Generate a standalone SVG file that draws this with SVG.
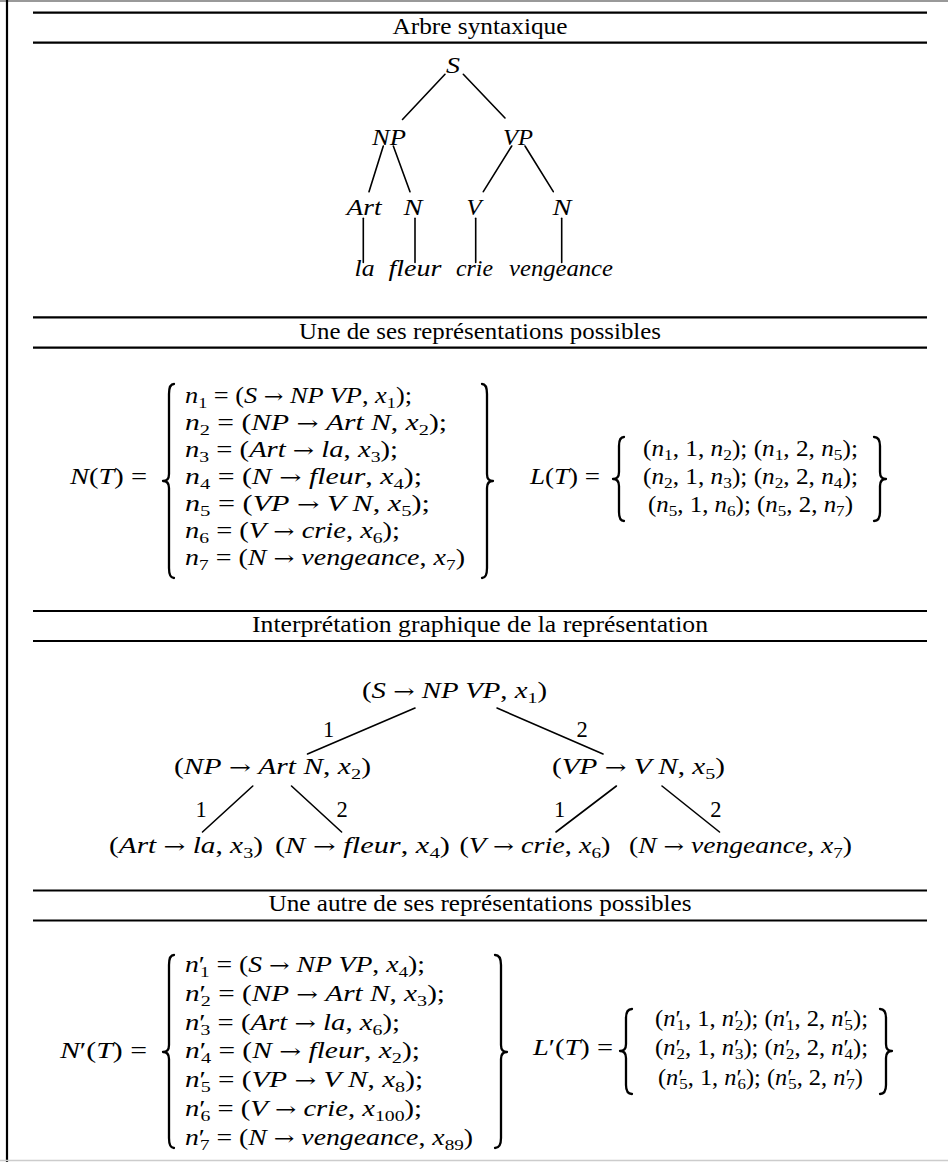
<svg xmlns="http://www.w3.org/2000/svg" width="948" height="1162" viewBox="0 0 948 1162">
<style>
text { font-family: "Liberation Serif", "Times New Roman", serif; font-size: 22.5px; fill: #000; }
.it { font-style: italic; }
.s { font-size: 15.5px; font-style: normal; }
.ar { font-family: "DejaVu Serif", serif; font-size: 20px; font-style: normal; }
.c { text-anchor: middle; }
.rule { stroke: #000; stroke-width: 2.2; }
.edge { stroke: #000; stroke-width: 1.6; fill: none; stroke-linecap: round; }
.brace { stroke: #000; stroke-width: 2.3; fill: none; stroke-linejoin: round; stroke-linecap: round; }
</style>
<rect x="0" y="0" width="948" height="1162" fill="#fff"/>
<g id="frame">
  <line x1="0" y1="1" x2="948" y2="1" stroke="#777" stroke-width="1.5"/>
  <line x1="7" y1="0" x2="7" y2="1162" stroke="#000" stroke-width="2.2"/>
  <line x1="0" y1="1160.5" x2="948" y2="1160.5" stroke="#ccc" stroke-width="1.5"/>
</g>
<g id="headers">
  <line class="rule" x1="33" y1="12.7" x2="927" y2="12.7"/>
  <line class="rule" x1="33" y1="42.7" x2="927" y2="42.7"/>
  <text class="c" x="480" y="34" textLength="175" lengthAdjust="spacingAndGlyphs">Arbre syntaxique</text>
  <line class="rule" x1="33" y1="317.3" x2="927" y2="317.3"/>
  <line class="rule" x1="33" y1="347.7" x2="927" y2="347.7"/>
  <text class="c" x="480" y="338.5" textLength="362" lengthAdjust="spacingAndGlyphs">Une de ses représentations possibles</text>
  <line class="rule" x1="33" y1="611" x2="927" y2="611"/>
  <line class="rule" x1="33" y1="641" x2="927" y2="641"/>
  <text class="c" x="480" y="632" textLength="456" lengthAdjust="spacingAndGlyphs">Interprétation graphique de la représentation</text>
  <line class="rule" x1="33" y1="890.5" x2="927" y2="890.5"/>
  <line class="rule" x1="33" y1="920.5" x2="927" y2="920.5"/>
  <text class="c" x="480" y="911" textLength="423" lengthAdjust="spacingAndGlyphs">Une autre de ses représentations possibles</text>
</g>
<!-- Section 1: syntax tree -->
<g id="tree1-connectors">
  <line class="edge" x1="445" y1="74.3" x2="402.5" y2="119.5"/>
  <line class="edge" x1="463.3" y1="74.3" x2="505" y2="118"/>
  <line class="edge" x1="383.3" y1="146" x2="369" y2="191.7"/>
  <line class="edge" x1="393.3" y1="146" x2="410" y2="191.7"/>
  <line class="edge" x1="511.7" y1="146" x2="483.3" y2="191.7"/>
  <line class="edge" x1="525" y1="146" x2="553.3" y2="191.7"/>
  <line class="edge" x1="363.3" y1="218.3" x2="363.3" y2="262.5"/>
  <line class="edge" x1="415" y1="218.3" x2="415" y2="262.5"/>
  <line class="edge" x1="475.7" y1="218.3" x2="475.7" y2="262.5"/>
  <line class="edge" x1="561.7" y1="218.3" x2="561.7" y2="262.5"/>
</g>
<g id="t-S"><text class="it c" x="453" y="72.5" textLength="14" lengthAdjust="spacingAndGlyphs">S</text></g>
<g id="t-NP"><text class="it c" x="389" y="144.5" textLength="34" lengthAdjust="spacingAndGlyphs">NP</text></g>
<g id="t-VP"><text class="it c" x="518" y="144.5" textLength="30" lengthAdjust="spacingAndGlyphs">VP</text></g>
<g id="t-Art"><text class="it c" x="364" y="214.5" textLength="35" lengthAdjust="spacingAndGlyphs">Art</text></g>
<g id="t-N1"><text class="it c" x="413" y="214.5" textLength="19" lengthAdjust="spacingAndGlyphs">N</text></g>
<g id="t-V"><text class="it c" x="474" y="214.5" textLength="15" lengthAdjust="spacingAndGlyphs">V</text></g>
<g id="t-N2"><text class="it c" x="562" y="214.5" textLength="19" lengthAdjust="spacingAndGlyphs">N</text></g>
<g id="t-la"><text class="it c" x="364.5" y="276" textLength="20" lengthAdjust="spacingAndGlyphs">la</text></g>
<g id="t-fleur"><text class="it c" x="415" y="276" textLength="53" lengthAdjust="spacingAndGlyphs">fleur</text></g>
<g id="t-crie"><text class="it c" x="474.5" y="276" textLength="37" lengthAdjust="spacingAndGlyphs">crie</text></g>
<g id="t-vengeance"><text class="it c" x="561" y="276" textLength="104" lengthAdjust="spacingAndGlyphs">vengeance</text></g>

<!-- Section 2 -->
<g id="NT">
  <text x="70" y="484" textLength="77" lengthAdjust="spacingAndGlyphs"><tspan class="it">N</tspan>(<tspan class="it">T</tspan>) =</text>
  <path class="brace" d="M174,384 Q169,384 169,394 L169,474 Q169,481 163,481 Q169,481 169,488 L169,568 Q169,578 174,578"/>
  <text x="185" y="403" textLength="227" lengthAdjust="spacingAndGlyphs"><tspan class="it">n</tspan><tspan class="s" dy="4.5">1</tspan><tspan dy="-4.5"> = (</tspan><tspan class="it">S</tspan> <tspan class="ar">→</tspan> <tspan class="it">NP VP</tspan>, <tspan class="it">x</tspan><tspan class="s" dy="4.5">1</tspan><tspan dy="-4.5">);</tspan></text>
  <text x="185" y="430" textLength="262" lengthAdjust="spacingAndGlyphs"><tspan class="it">n</tspan><tspan class="s" dy="4.5">2</tspan><tspan dy="-4.5"> = (</tspan><tspan class="it">NP</tspan> <tspan class="ar">→</tspan> <tspan class="it">Art N</tspan>, <tspan class="it">x</tspan><tspan class="s" dy="4.5">2</tspan><tspan dy="-4.5">);</tspan></text>
  <text x="185" y="457" textLength="213" lengthAdjust="spacingAndGlyphs"><tspan class="it">n</tspan><tspan class="s" dy="4.5">3</tspan><tspan dy="-4.5"> = (</tspan><tspan class="it">Art</tspan> <tspan class="ar">→</tspan> <tspan class="it">la</tspan>, <tspan class="it">x</tspan><tspan class="s" dy="4.5">3</tspan><tspan dy="-4.5">);</tspan></text>
  <text x="185" y="484" textLength="237" lengthAdjust="spacingAndGlyphs"><tspan class="it">n</tspan><tspan class="s" dy="4.5">4</tspan><tspan dy="-4.5"> = (</tspan><tspan class="it">N</tspan> <tspan class="ar">→</tspan> <tspan class="it">fleur</tspan>, <tspan class="it">x</tspan><tspan class="s" dy="4.5">4</tspan><tspan dy="-4.5">);</tspan></text>
  <text x="185" y="511" textLength="245" lengthAdjust="spacingAndGlyphs"><tspan class="it">n</tspan><tspan class="s" dy="4.5">5</tspan><tspan dy="-4.5"> = (</tspan><tspan class="it">VP</tspan> <tspan class="ar">→</tspan> <tspan class="it">V N</tspan>, <tspan class="it">x</tspan><tspan class="s" dy="4.5">5</tspan><tspan dy="-4.5">);</tspan></text>
  <text x="185" y="538" textLength="215" lengthAdjust="spacingAndGlyphs"><tspan class="it">n</tspan><tspan class="s" dy="4.5">6</tspan><tspan dy="-4.5"> = (</tspan><tspan class="it">V</tspan> <tspan class="ar">→</tspan> <tspan class="it">crie</tspan>, <tspan class="it">x</tspan><tspan class="s" dy="4.5">6</tspan><tspan dy="-4.5">);</tspan></text>
  <text x="185" y="565" textLength="280" lengthAdjust="spacingAndGlyphs"><tspan class="it">n</tspan><tspan class="s" dy="4.5">7</tspan><tspan dy="-4.5"> = (</tspan><tspan class="it">N</tspan> <tspan class="ar">→</tspan> <tspan class="it">vengeance</tspan>, <tspan class="it">x</tspan><tspan class="s" dy="4.5">7</tspan><tspan dy="-4.5">)</tspan></text>
  <path class="brace" d="M482,384 Q487,384 487,394 L487,474 Q487,481 493,481 Q487,481 487,488 L487,568 Q487,578 482,578"/>
</g>
<g id="LT">
  <text x="530" y="484" textLength="70" lengthAdjust="spacingAndGlyphs"><tspan class="it">L</tspan>(<tspan class="it">T</tspan>) =</text>
  <path class="brace" d="M624,437 Q619,437 619,446 L619,472 Q619,479 613,479 Q619,479 619,486 L619,512 Q619,521 624,521"/>
  <text x="643" y="456" textLength="215" lengthAdjust="spacingAndGlyphs">(<tspan class="it">n</tspan><tspan class="s" dy="3.5">1</tspan><tspan dy="-3.5">, 1, </tspan><tspan class="it">n</tspan><tspan class="s" dy="3.5">2</tspan><tspan dy="-3.5">); (</tspan><tspan class="it">n</tspan><tspan class="s" dy="3.5">1</tspan><tspan dy="-3.5">, 2, </tspan><tspan class="it">n</tspan><tspan class="s" dy="3.5">5</tspan><tspan dy="-3.5">);</tspan></text>
  <text x="643" y="484" textLength="215" lengthAdjust="spacingAndGlyphs">(<tspan class="it">n</tspan><tspan class="s" dy="3.5">2</tspan><tspan dy="-3.5">, 1, </tspan><tspan class="it">n</tspan><tspan class="s" dy="3.5">3</tspan><tspan dy="-3.5">); (</tspan><tspan class="it">n</tspan><tspan class="s" dy="3.5">2</tspan><tspan dy="-3.5">, 2, </tspan><tspan class="it">n</tspan><tspan class="s" dy="3.5">4</tspan><tspan dy="-3.5">);</tspan></text>
  <text x="648" y="512" textLength="205" lengthAdjust="spacingAndGlyphs">(<tspan class="it">n</tspan><tspan class="s" dy="3.5">5</tspan><tspan dy="-3.5">, 1, </tspan><tspan class="it">n</tspan><tspan class="s" dy="3.5">6</tspan><tspan dy="-3.5">); (</tspan><tspan class="it">n</tspan><tspan class="s" dy="3.5">5</tspan><tspan dy="-3.5">, 2, </tspan><tspan class="it">n</tspan><tspan class="s" dy="3.5">7</tspan><tspan dy="-3.5">)</tspan></text>
  <path class="brace" d="M874,437 Q880,437 880,446 L880,472 Q880,479 886,479 Q880,479 880,486 L880,512 Q880,521 874,521"/>
</g>

<!-- Section 3: graphical interpretation -->
<g id="graph-connectors">
  <line class="edge" x1="415" y1="708" x2="307.5" y2="754"/>
  <line class="edge" x1="497" y1="708" x2="603" y2="754"/>
  <line class="edge" x1="252.8" y1="786" x2="202.5" y2="832"/>
  <line class="edge" x1="291.5" y1="786" x2="341.6" y2="832"/>
  <line class="edge" x1="616.4" y1="786" x2="556" y2="832"/>
  <line class="edge" x1="662" y1="786" x2="719.5" y2="832"/>
  <text class="c" x="328.5" y="737">1</text>
  <text class="c" x="582" y="737">2</text>
  <text class="c" x="201" y="817">1</text>
  <text class="c" x="342" y="817">2</text>
  <text class="c" x="559.6" y="817">1</text>
  <text class="c" x="715.8" y="817">2</text>
</g>
<g id="g-n1"><text x="362" y="698" textLength="185" lengthAdjust="spacingAndGlyphs">(<tspan class="it">S</tspan> <tspan class="ar">→</tspan> <tspan class="it">NP VP</tspan>, <tspan class="it">x</tspan><tspan class="s" dy="4.5">1</tspan><tspan dy="-4.5">)</tspan></text></g>
<g id="g-n2"><text x="174" y="774" textLength="197" lengthAdjust="spacingAndGlyphs">(<tspan class="it">NP</tspan> <tspan class="ar">→</tspan> <tspan class="it">Art N</tspan>, <tspan class="it">x</tspan><tspan class="s" dy="4.5">2</tspan><tspan dy="-4.5">)</tspan></text></g>
<g id="g-n5"><text x="552" y="774" textLength="173" lengthAdjust="spacingAndGlyphs">(<tspan class="it">VP</tspan> <tspan class="ar">→</tspan> <tspan class="it">V N</tspan>, <tspan class="it">x</tspan><tspan class="s" dy="4.5">5</tspan><tspan dy="-4.5">)</tspan></text></g>
<g id="g-n3"><text x="109" y="853" textLength="154" lengthAdjust="spacingAndGlyphs">(<tspan class="it">Art</tspan> <tspan class="ar">→</tspan> <tspan class="it">la</tspan>, <tspan class="it">x</tspan><tspan class="s" dy="4.5">3</tspan><tspan dy="-4.5">)</tspan></text></g>
<g id="g-n4"><text x="275" y="853" textLength="175" lengthAdjust="spacingAndGlyphs">(<tspan class="it">N</tspan> <tspan class="ar">→</tspan> <tspan class="it">fleur</tspan>, <tspan class="it">x</tspan><tspan class="s" dy="4.5">4</tspan><tspan dy="-4.5">)</tspan></text></g>
<g id="g-n6"><text x="459.5" y="853" textLength="151" lengthAdjust="spacingAndGlyphs">(<tspan class="it">V</tspan> <tspan class="ar">→</tspan> <tspan class="it">crie</tspan>, <tspan class="it">x</tspan><tspan class="s" dy="4.5">6</tspan><tspan dy="-4.5">)</tspan></text></g>
<g id="g-n7"><text x="629" y="853" textLength="223" lengthAdjust="spacingAndGlyphs">(<tspan class="it">N</tspan> <tspan class="ar">→</tspan> <tspan class="it">vengeance</tspan>, <tspan class="it">x</tspan><tspan class="s" dy="4.5">7</tspan><tspan dy="-4.5">)</tspan></text></g>

<!-- Section 4 -->
<g id="NpT">
  <text x="60" y="1058" textLength="87" lengthAdjust="spacingAndGlyphs"><tspan class="it">N</tspan>′(<tspan class="it">T</tspan>) =</text>
  <path class="brace" d="M174,955 Q169,955 169,965 L169,1045 Q169,1052 163,1052 Q169,1052 169,1059 L169,1138 Q169,1148 174,1148"/>
  <text x="185" y="972" textLength="240" lengthAdjust="spacingAndGlyphs"><tspan class="it">n</tspan>′<tspan class="s" dx="-4" dy="4.5">1</tspan><tspan dy="-4.5"> = (</tspan><tspan class="it">S</tspan> <tspan class="ar">→</tspan> <tspan class="it">NP VP</tspan>, <tspan class="it">x</tspan><tspan class="s" dy="4.5">4</tspan><tspan dy="-4.5">);</tspan></text>
  <text x="185" y="1001" textLength="260" lengthAdjust="spacingAndGlyphs"><tspan class="it">n</tspan>′<tspan class="s" dx="-4" dy="4.5">2</tspan><tspan dy="-4.5"> = (</tspan><tspan class="it">NP</tspan> <tspan class="ar">→</tspan> <tspan class="it">Art N</tspan>, <tspan class="it">x</tspan><tspan class="s" dy="4.5">3</tspan><tspan dy="-4.5">);</tspan></text>
  <text x="185" y="1030" textLength="215" lengthAdjust="spacingAndGlyphs"><tspan class="it">n</tspan>′<tspan class="s" dx="-4" dy="4.5">3</tspan><tspan dy="-4.5"> = (</tspan><tspan class="it">Art</tspan> <tspan class="ar">→</tspan> <tspan class="it">la</tspan>, <tspan class="it">x</tspan><tspan class="s" dy="4.5">6</tspan><tspan dy="-4.5">);</tspan></text>
  <text x="185" y="1058" textLength="235" lengthAdjust="spacingAndGlyphs"><tspan class="it">n</tspan>′<tspan class="s" dx="-4" dy="4.5">4</tspan><tspan dy="-4.5"> = (</tspan><tspan class="it">N</tspan> <tspan class="ar">→</tspan> <tspan class="it">fleur</tspan>, <tspan class="it">x</tspan><tspan class="s" dy="4.5">2</tspan><tspan dy="-4.5">);</tspan></text>
  <text x="185" y="1087" textLength="238" lengthAdjust="spacingAndGlyphs"><tspan class="it">n</tspan>′<tspan class="s" dx="-4" dy="4.5">5</tspan><tspan dy="-4.5"> = (</tspan><tspan class="it">VP</tspan> <tspan class="ar">→</tspan> <tspan class="it">V N</tspan>, <tspan class="it">x</tspan><tspan class="s" dy="4.5">8</tspan><tspan dy="-4.5">);</tspan></text>
  <text x="185" y="1116" textLength="237" lengthAdjust="spacingAndGlyphs"><tspan class="it">n</tspan>′<tspan class="s" dx="-4" dy="4.5">6</tspan><tspan dy="-4.5"> = (</tspan><tspan class="it">V</tspan> <tspan class="ar">→</tspan> <tspan class="it">crie</tspan>, <tspan class="it">x</tspan><tspan class="s" dy="4.5">100</tspan><tspan dy="-4.5">);</tspan></text>
  <text x="185" y="1145" textLength="288" lengthAdjust="spacingAndGlyphs"><tspan class="it">n</tspan>′<tspan class="s" dx="-4" dy="4.5">7</tspan><tspan dy="-4.5"> = (</tspan><tspan class="it">N</tspan> <tspan class="ar">→</tspan> <tspan class="it">vengeance</tspan>, <tspan class="it">x</tspan><tspan class="s" dy="4.5">89</tspan><tspan dy="-4.5">)</tspan></text>
  <path class="brace" d="M495,955 Q501,955 501,965 L501,1045 Q501,1052 507,1052 Q501,1052 501,1059 L501,1138 Q501,1148 495,1148"/>
</g>
<g id="LpT">
  <text x="533" y="1055" textLength="80" lengthAdjust="spacingAndGlyphs"><tspan class="it">L</tspan>′(<tspan class="it">T</tspan>) =</text>
  <path class="brace" d="M632,1009 Q626,1009 626,1018 L626,1044 Q626,1051 620,1051 Q626,1051 626,1058 L626,1085 Q626,1094 632,1094"/>
  <text x="655" y="1026" textLength="213" lengthAdjust="spacingAndGlyphs">(<tspan class="it">n</tspan>′<tspan class="s" dx="-4" dy="3.5">1</tspan><tspan dy="-3.5">, 1, </tspan><tspan class="it">n</tspan>′<tspan class="s" dx="-4" dy="3.5">2</tspan><tspan dy="-3.5">); (</tspan><tspan class="it">n</tspan>′<tspan class="s" dx="-4" dy="3.5">1</tspan><tspan dy="-3.5">, 2, </tspan><tspan class="it">n</tspan>′<tspan class="s" dx="-4" dy="3.5">5</tspan><tspan dy="-3.5">);</tspan></text>
  <text x="655" y="1055" textLength="213" lengthAdjust="spacingAndGlyphs">(<tspan class="it">n</tspan>′<tspan class="s" dx="-4" dy="3.5">2</tspan><tspan dy="-3.5">, 1, </tspan><tspan class="it">n</tspan>′<tspan class="s" dx="-4" dy="3.5">3</tspan><tspan dy="-3.5">); (</tspan><tspan class="it">n</tspan>′<tspan class="s" dx="-4" dy="3.5">2</tspan><tspan dy="-3.5">, 2, </tspan><tspan class="it">n</tspan>′<tspan class="s" dx="-4" dy="3.5">4</tspan><tspan dy="-3.5">);</tspan></text>
  <text x="658" y="1085" textLength="205" lengthAdjust="spacingAndGlyphs">(<tspan class="it">n</tspan>′<tspan class="s" dx="-4" dy="3.5">5</tspan><tspan dy="-3.5">, 1, </tspan><tspan class="it">n</tspan>′<tspan class="s" dx="-4" dy="3.5">6</tspan><tspan dy="-3.5">); (</tspan><tspan class="it">n</tspan>′<tspan class="s" dx="-4" dy="3.5">5</tspan><tspan dy="-3.5">, 2, </tspan><tspan class="it">n</tspan>′<tspan class="s" dx="-4" dy="3.5">7</tspan><tspan dy="-3.5">)</tspan></text>
  <path class="brace" d="M880,1009 Q886,1009 886,1018 L886,1044 Q886,1051 892,1051 Q886,1051 886,1058 L886,1085 Q886,1094 880,1094"/>
</g>
</svg>
